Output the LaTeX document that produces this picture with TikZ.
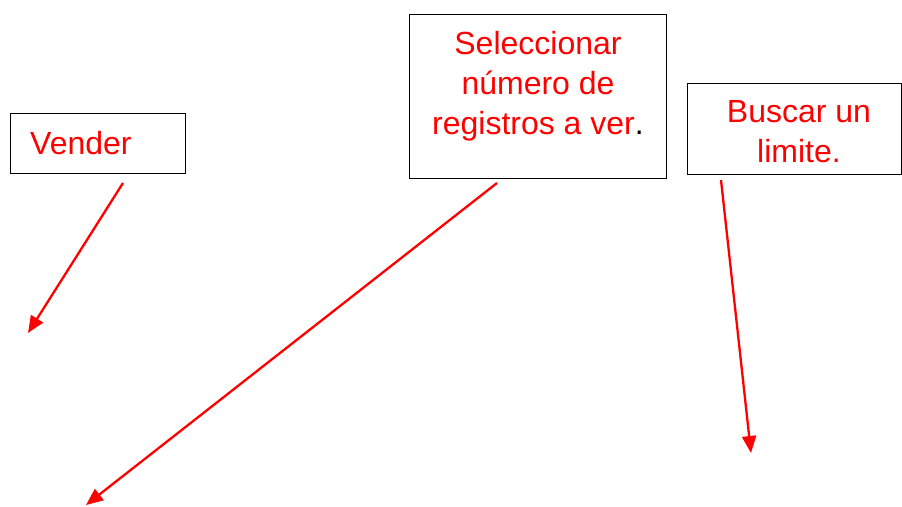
\documentclass[tikz,border=0pt]{standalone}
\usepackage{fontspec}
\setmainfont{Liberation Sans}
\usetikzlibrary{arrows.meta}
\definecolor{boxred}{RGB}{255,0,0}
\tikzset{
  box/.style={draw=black, line width=1pt, inner sep=0pt},
  lbl/.style={text=boxred, font=\fontsize{32}{40}\selectfont, anchor=base, inner sep=0pt},
  conn/.style={draw=boxred, line width=2.3pt, -{Triangle[length=17pt,width=14pt]}}
}
\begin{document}
\begin{tikzpicture}[x=1pt,y=-1pt]
\useasboundingbox (0,0) rectangle (902,506);
% boxes
\node[box, minimum width=175pt, minimum height=60pt] (vender) at (97.5,143) {};
\node[box, minimum width=257pt, minimum height=164pt] (selec) at (537.5,96) {};
\node[box, minimum width=214pt, minimum height=91pt] (buscar) at (794,128.5) {};
% texts
\node[lbl, anchor=base west] (t1) at (30,154) {Vender};
\node[lbl] (t2a) at (538,54) {Seleccionar};
\node[lbl] (t2b) at (538,94) {número de};
\node[lbl] (t2c) at (538,134) {registros a ver\textcolor{black}{.}};
\node[lbl] (t3a) at (799,122) {Buscar un};
\node[lbl] (t3b) at (799,162) {limite.};
% arrow ends
\coordinate (s1) at (123,183);
\coordinate (e1) at (28,333);
\coordinate (s2) at (497,183);
\coordinate (e2) at (86,505);
\coordinate (s3) at (721,180);
\coordinate (e3) at (751,453);
\draw[conn] (s1) -- (e1);
\draw[conn] (s2) -- (e2);
\draw[conn] (s3) -- (e3);
\end{tikzpicture}
\end{document}
